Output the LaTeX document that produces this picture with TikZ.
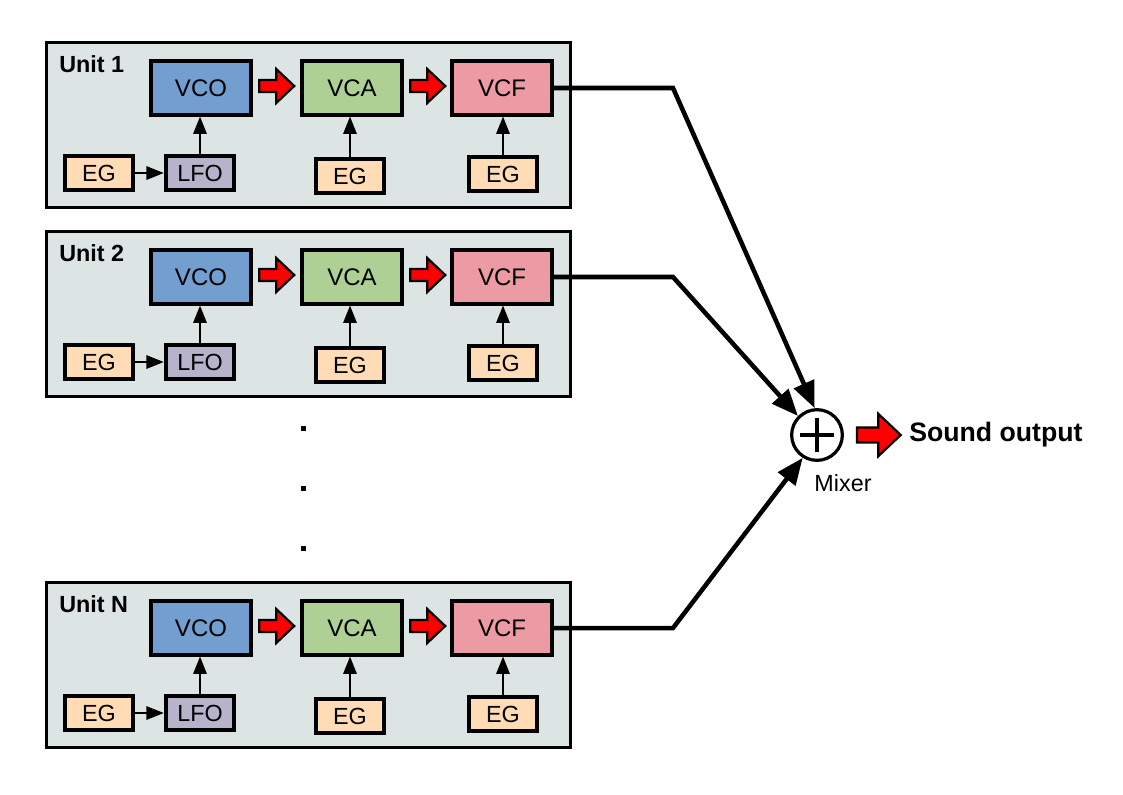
\documentclass[tikz,border=0pt]{standalone}
\usepackage{fontspec}
\setmainfont{Liberation Sans}
\usepackage{tikz}
\usetikzlibrary{arrows.meta,calc}

\definecolor{unitbg}{HTML}{DDE5E4}
\definecolor{vcoblue}{HTML}{729FCF}
\definecolor{vcagreen}{HTML}{AFD095}
\definecolor{vcfpink}{HTML}{EC9BA4}
\definecolor{lfopurple}{HTML}{B7B3CB}
\definecolor{egorange}{HTML}{FFDBB6}

\tikzset{
    mainbox/.style={draw, line width=2.8pt, minimum width=75.5pt, minimum height=40pt, inner sep=0pt, font=\fontsize{18}{20}\selectfont},
    smallbox/.style={draw, line width=2.8pt, minimum width=51.5pt, minimum height=25.5pt, inner sep=0pt, fill=egorange, font=\fontsize{17.5}{20}\selectfont},
    ctrl/.style={line width=1.4pt, -{Triangle[length=13pt,width=10pt]}},
    mixline/.style={line width=3.4pt, -{Triangle[length=20pt,width=16pt]}},
    redarrow/.pic={\filldraw[fill=red, draw=black, line width=1.7pt] (0,-6) -- (17,-6) -- (17,-17) -- (35,0) -- (17,17) -- (17,6) -- (0,6) -- cycle;}
}

\begin{document}
\begin{tikzpicture}[x=0.75pt,y=0.75pt,yscale=-1,xscale=1]
    \useasboundingbox (0,0) rectangle (1123,794);

    %Mixer
    \node[circle, draw, line width=2.4pt, minimum size=38pt, inner sep=0pt] (mixer) at (817,435) {};
    \draw[line width=2.4pt] ($(mixer)+(-17,0)$) -- ($(mixer)+(17,0)$);
    \draw[line width=2.4pt] ($(mixer)+(0,-17)$) -- ($(mixer)+(0,17)$);
    \node[inner sep=0pt, font=\fontsize{17.5}{20}\selectfont] (mixlab) at (843,483) {Mixer};
    \path ($(mixer.east)+(13,0)$) pic[scale=1.25] {redarrow};
    \node[anchor=west, inner sep=0pt, font=\bfseries\fontsize{20}{24}\selectfont] (out) at (909,435) {Sound output};

    %Units
    \foreach \u/\y/\a in {1/88/95, 2/277/135, N/628/238}{
        \draw[line width=2.5pt, fill=unitbg] (46.5,\y-45.5) rectangle (570.5,\y+119.5);
        \node[anchor=west, inner sep=0pt, font=\bfseries\fontsize{17.5}{20}\selectfont] (lab\u) at (59,\y-24) {Unit \u};

        \node[mainbox, fill=vcoblue] (vco\u) at (201,\y) {VCO};
        \node[mainbox, fill=vcagreen] (vca\u) at (352,\y) {VCA};
        \node[mainbox, fill=vcfpink] (vcf\u) at (502,\y) {VCF};
        \node[smallbox] (egl\u) at (99,\y+85) {EG};
        \node[smallbox, fill=lfopurple] (lfo\u) at (200,\y+85) {LFO};
        \node[smallbox] (ega\u) at (350,\y+88) {EG};
        \node[smallbox] (egf\u) at (503,\y+86) {EG};

        \draw[ctrl] (egl\u) -- (lfo\u);
        \draw[ctrl] (lfo\u.north) -- (lfo\u.north |- vco\u.south);
        \draw[ctrl] (ega\u.north) -- (ega\u.north |- vca\u.south);
        \draw[ctrl] (egf\u.north) -- (egf\u.north |- vcf\u.south);

        \path ($(vco\u.east)+(6,-2)$) pic {redarrow};
        \path ($(vca\u.east)+(6,-2)$) pic {redarrow};

        %to mixer
        \coordinate (bend\u) at (673,\y);
        \draw[mixline] (vcf\u.east) -- (bend\u) -- (mixer.\a);
    }

    %Dots
    \foreach \d in {428,488,548}
        \fill (300.5,\d-2.5) rectangle ++(5,5);
\end{tikzpicture}
\end{document}
